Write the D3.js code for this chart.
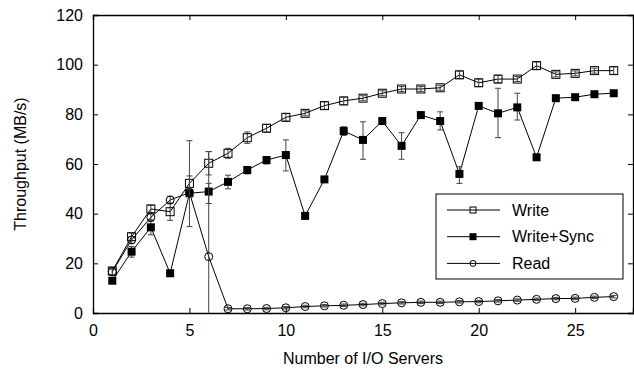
<!DOCTYPE html>
<html>
<head>
<meta charset="utf-8">
<script src="https://cdn.jsdelivr.net/npm/d3@7/dist/d3.min.js"></script>
<style>
  html, body { margin: 0; padding: 0; background: #fff; }
  svg { display: block; font-family: "Liberation Sans", Arial, Helvetica, sans-serif; }
</style>
</head>
<body>
<svg id="chart" width="634" height="369"></svg>
<script>
// ---- Data ----
const servers = [1,2,3,4,5,6,7,8,9,10,11,12,13,14,15,16,17,18,19,20,21,22,23,24,25,26,27];
const writeVals = [16.9,30.7,41.9,40.8,52.2,60.3,64.3,70.6,74.4,78.8,80.4,83.5,85.4,86.5,88.5,90.2,90.2,90.7,95.9,92.7,94.2,94.2,99.6,96.1,96.5,97.6,97.6];
const writeErr  = [1.5,1.5,1.5,3.5,3,4.7,2,2.3,1.5,1.5,1,1.5,1.5,1,1,1,1,1,1.5,1.5,1.5,1,1.5,1,1,1,1.5];
const syncVals  = [13.0,24.7,34.5,16.0,48.2,48.9,52.8,57.6,61.6,63.6,39.1,53.8,73.3,69.7,77.3,67.3,79.7,77.3,56.0,83.4,80.4,82.8,62.7,86.5,86.9,88.1,88.5];
const syncLow   = [12,22.5,31.5,15,34.8,44.1,50,56,60,57.2,38.5,53,71.5,61.9,77,61.9,79,73.7,52.2,83,70.6,77.7,62,86,86.5,87.5,88];
const syncHigh  = [14,26.8,37.5,17,69.4,52.2,55.5,59,63,69.7,39.7,54.6,75,77,77.6,72.6,80.5,81,58.9,84,90.5,88.5,63.4,87,87.3,88.7,89];
const readVals  = [16.6,29.4,38.5,45.5,48.5,22.7,1.7,1.7,1.8,2.1,2.6,2.9,3.1,3.4,3.8,4.1,4.3,4.3,4.5,4.6,4.9,5.2,5.5,5.8,5.9,6.3,6.6];
const readLow   = [15.5,28,37,44,47,-20,1.2,1.2,1.3,1.6,2.1,2.4,2.6,2.9,3.3,3.6,3.8,3.8,4,4.1,4.4,4.7,5,5.3,5.4,5.8,6.1];
const readHigh  = [17.7,30.8,40,47,50,65,2.2,2.2,2.3,2.6,3.1,3.4,3.6,3.9,4.3,4.6,4.8,4.8,5,5.1,5.4,5.7,6,6.3,6.4,6.8,7.1];
const xTicks = [0,5,10,15,20,25];
const yTicks = [0,20,40,60,80,100,120];
const seriesNames = ["Write","Write+Sync","Read"];
const xLabel = "Number of I/O Servers";
const yLabel = "Throughput (MB/s)";

// ---- Layout ----
const svg = d3.select("#chart");
const L = 93, R = 633, T = 15, B = 313;
const x = d3.scaleLinear().domain([0,28]).range([L,R]);
const y = d3.scaleLinear().domain([0,120]).range([B,T]);

const defs = svg.append("defs");
defs.append("clipPath").attr("id","plotclip")
  .append("rect").attr("x",L).attr("y",T).attr("width",R-L).attr("height",B-T);

// ---- Axes (inward ticks, mirrored) ----
const tickLen = 5;
const axB = svg.append("g").attr("transform",`translate(0,${B})`)
  .call(d3.axisBottom(x).tickValues(xTicks).tickSize(-tickLen).tickPadding(12).tickFormat(d3.format("d")));
const axT = svg.append("g").attr("transform",`translate(0,${T})`)
  .call(d3.axisTop(x).tickValues(xTicks).tickSize(-tickLen).tickFormat(""));
const axL = svg.append("g").attr("transform",`translate(${L},0)`)
  .call(d3.axisLeft(y).tickValues(yTicks).tickSize(-tickLen).tickPadding(10).tickFormat(d3.format("d")));
const axR = svg.append("g").attr("transform",`translate(${R},0)`)
  .call(d3.axisRight(y).tickValues(yTicks).tickSize(-tickLen).tickFormat(""));
[axB,axT,axL,axR].forEach(a => {
  a.select(".domain").attr("stroke","#000").attr("stroke-width",1.3);
  a.selectAll(".tick line").attr("stroke","#000").attr("stroke-width",1);
  a.selectAll(".tick text").attr("fill","#000").attr("font-size",16)
    .attr("font-family","Liberation Sans, Arial, sans-serif");
});
// hide end ticks drawn over the frame corners
axB.selectAll(".tick").filter(d => d===0).select("line").remove();
axT.selectAll(".tick").filter(d => d===0).select("line").remove();
axL.selectAll(".tick").filter(d => d===0 || d===120).select("line").remove();
axR.selectAll(".tick").filter(d => d===0 || d===120).select("line").remove();

// ---- Axis titles ----
svg.append("text").attr("x",(L+R)/2).attr("y",364).attr("text-anchor","middle")
  .attr("font-size",16).text(xLabel);
svg.append("text").attr("transform",`translate(26,${(T+B)/2}) rotate(-90)`)
  .attr("text-anchor","middle").attr("font-size",16).text(yLabel);

const plot = svg.append("g").attr("clip-path","url(#plotclip)");

function build(vals, lows, highs) {
  return servers.map((s,i) => ({x:s, y:vals[i], lo:lows[i], hi:highs[i]}));
}
const writeData = servers.map((s,i) => ({x:s, y:writeVals[i], lo:writeVals[i]-writeErr[i], hi:writeVals[i]+writeErr[i]}));
const syncData = build(syncVals, syncLow, syncHigh);
const readData = build(readVals, readLow, readHigh);

const line = d3.line().x(d => x(d.x)).y(d => y(d.y));
const errColor = "#444";

function drawSeries(data, kind) {
  const g = plot.append("g");
  g.append("path").datum(data).attr("d",line).attr("fill","none").attr("stroke","#000").attr("stroke-width",1);
  // error bars
  const eb = g.selectAll(".eb").data(data).enter().append("g");
  eb.append("line").attr("x1",d=>x(d.x)).attr("x2",d=>x(d.x)).attr("y1",d=>y(d.lo)).attr("y2",d=>y(d.hi))
    .attr("stroke",errColor).attr("stroke-width",1);
  eb.append("line").attr("x1",d=>x(d.x)-3).attr("x2",d=>x(d.x)+3).attr("y1",d=>y(d.lo)).attr("y2",d=>y(d.lo))
    .attr("stroke",errColor).attr("stroke-width",1);
  eb.append("line").attr("x1",d=>x(d.x)-3).attr("x2",d=>x(d.x)+3).attr("y1",d=>y(d.hi)).attr("y2",d=>y(d.hi))
    .attr("stroke",errColor).attr("stroke-width",1);
  return g;
}

function marker(g, kind, cx, cy, s) {
  if (kind === "open") {
    g.append("rect").attr("x",cx-s/2).attr("y",cy-s/2).attr("width",s).attr("height",s)
      .attr("fill","none").attr("stroke","#000").attr("stroke-width",1);
  } else if (kind === "filled") {
    g.append("rect").attr("x",cx-s/2).attr("y",cy-s/2).attr("width",s).attr("height",s)
      .attr("fill","#000");
  } else {
    g.append("circle").attr("cx",cx).attr("cy",cy).attr("r",s/2)
      .attr("fill","none").attr("stroke","#000").attr("stroke-width",1);
  }
}

const gW = drawSeries(writeData);
const gS = drawSeries(syncData);
const gR = drawSeries(readData);
writeData.forEach(d => marker(gW,"open",x(d.x),y(d.y),8));
syncData.forEach(d => marker(gS,"filled",x(d.x),y(d.y),8));
readData.forEach(d => marker(gR,"circle",x(d.x),y(d.y),8));

// ---- Legend ----
const lg = svg.append("g");
lg.append("rect").attr("x",436).attr("y",194).attr("width",187).attr("height",85)
  .attr("fill","#fff").attr("stroke","#000").attr("stroke-width",1);
const kinds = ["open","filled","circle"];
seriesNames.forEach((name,i) => {
  const cy = 210 + i*26.7;
  lg.append("line").attr("x1",447).attr("x2",500).attr("y1",cy).attr("y2",cy)
    .attr("stroke","#000").attr("stroke-width",1);
  marker(lg,kinds[i],473,cy,i===1?7:6);
  lg.append("text").attr("x",512).attr("y",cy).attr("dy","0.35em").attr("font-size",16).text(name);
});
</script>
</body>
</html>
